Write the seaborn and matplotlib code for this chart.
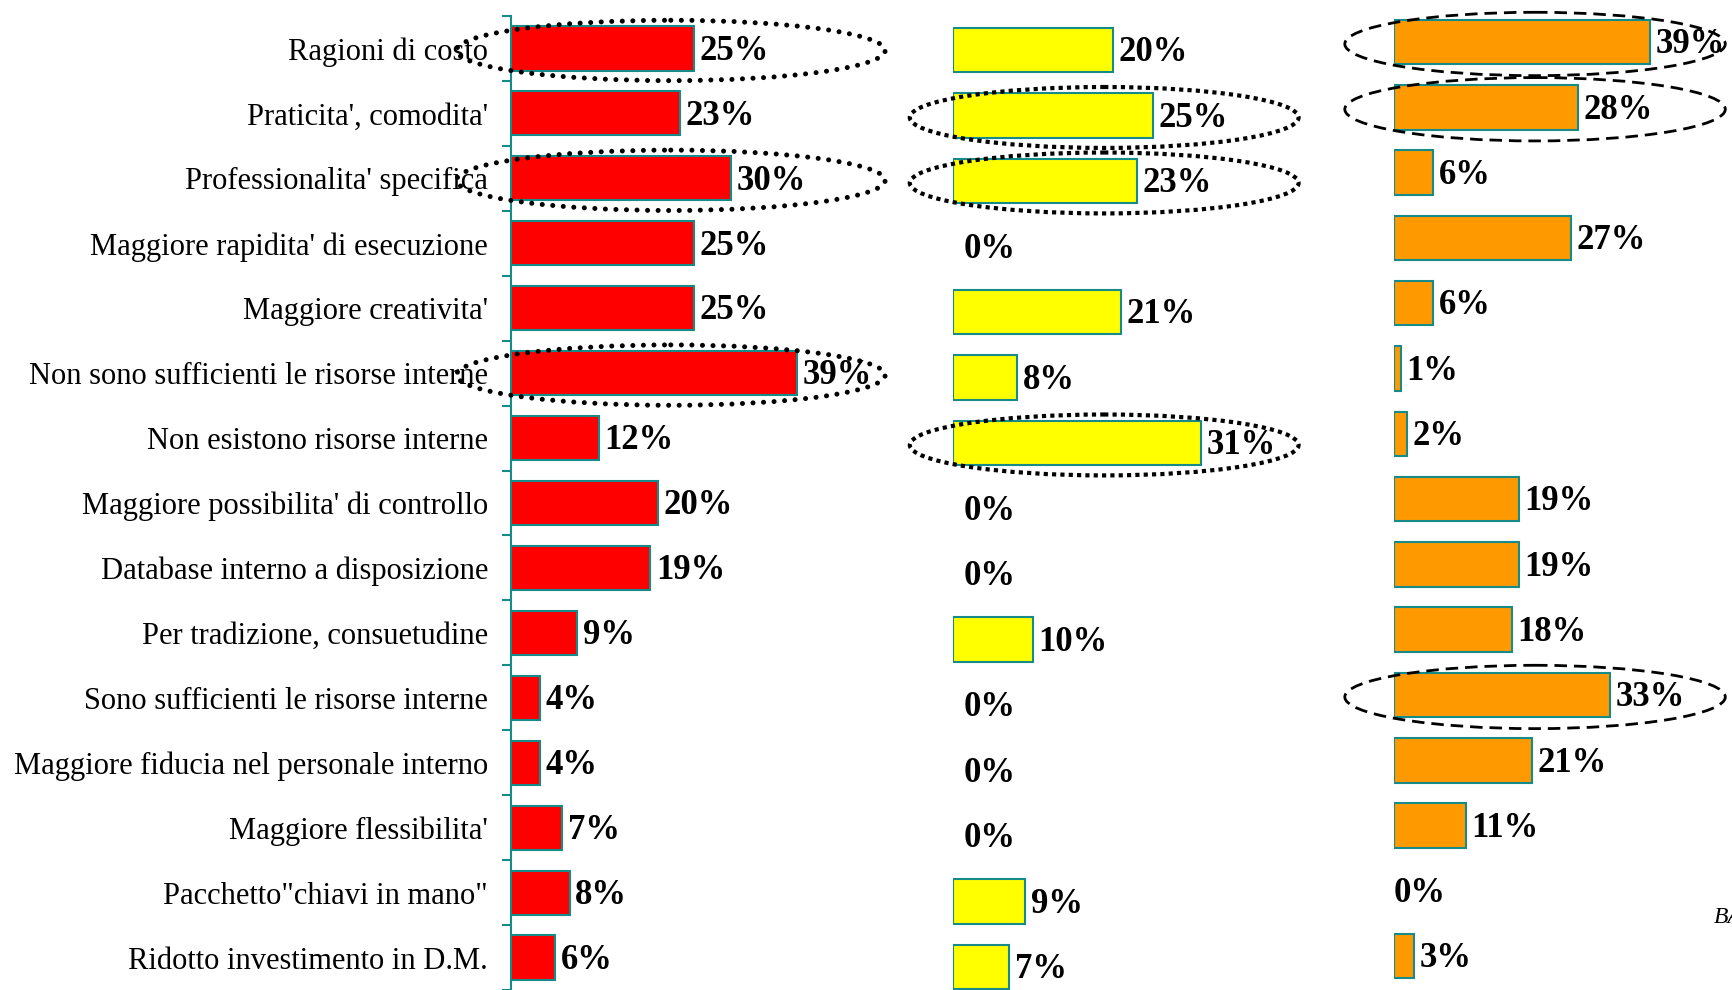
import matplotlib
matplotlib.use("Agg")
import matplotlib.pyplot as plt
import seaborn as sns
from matplotlib.patches import Ellipse

W, H = 1733, 990

categories = [
    "Ragioni di costo",
    "Praticita', comodita'",
    "Professionalita' specifica",
    "Maggiore rapidita' di esecuzione",
    "Maggiore creativita'",
    "Non sono sufficienti le risorse interne",
    "Non esistono risorse interne",
    "Maggiore possibilita' di controllo",
    "Database interno a disposizione",
    "Per tradizione, consuetudine",
    "Sono sufficienti le risorse interne",
    "Maggiore fiducia nel personale interno",
    "Maggiore flessibilita'",
    "Pacchetto\"chiavi in mano\"",
    "Ridotto investimento in D.M.",
]
red_vals = [25, 23, 30, 25, 25, 39, 12, 20, 19, 9, 4, 4, 7, 8, 6]
yellow_vals = [20, 25, 23, 0, 21, 8, 31, 0, 0, 10, 0, 0, 0, 9, 7]
orange_vals = [39, 28, 6, 27, 6, 1, 2, 19, 19, 18, 33, 21, 11, 0, 3]

# righe evidenziate con l'ellisse
red_circled = [0, 2, 5]
yellow_circled = [1, 2, 6]
orange_circled = [0, 1, 10]

TEAL = "#178a8a"

sns.set_style("white")
plt.rcParams["font.family"] = ["Liberation Serif", "DejaVu Serif"]
plt.rcParams["text.color"] = "black"
plt.rcParams["ytick.color"] = "black"


def make_panel(fig, left, row0, step, ppp, xmax=45):
    # posizione in pixel -> frazione di figura
    top = row0 - step / 2
    ax = fig.add_axes([left / W, 0, xmax * ppp / W, (H - top) / H])
    ybottom = -0.5 + (H - top) / step
    return ax, ybottom


def draw_bars(ax, vals, color, ybottom, xmax=45, zero_pad=4):
    sns.barplot(x=vals, y=categories, orient="h", color=color, saturation=1,
                edgecolor=TEAL, linewidth=1.5, width=0.68, ax=ax)
    # niente bordo sulle barre a zero
    for p in ax.patches:
        if p.get_width() == 0:
            p.set_linewidth(0)
    ax.set_xlim(0, xmax)
    ax.set_ylim(ybottom, -0.5)
    for i, v in enumerate(vals):
        dx = 4 if v > 0 else zero_pad
        ax.annotate(f"{v}%", xy=(v, i), xytext=(dx, -2), textcoords="offset points",
                    ha="left", va="center", fontsize=25, fontweight="bold",
                    color="black", annotation_clip=False)


def add_ellipses(ax, rows, cx, w, h, **kw):
    for r in rows:
        ax.add_patch(Ellipse((cx, r + 0.03), w, h, fill=False, clip_on=False,
                             edgecolor="black", zorder=5, **kw))


fig = plt.figure(figsize=(W / 100, H / 100), dpi=100)

# pannello rosso (con etichette)
ax_r, yb = make_panel(fig, 511, 48.6, 65.15, 7.33)
draw_bars(ax_r, red_vals, "#ff0000", yb)
for s in ["top", "right", "bottom"]:
    ax_r.spines[s].set_visible(False)
ax_r.spines["left"].set_color(TEAL)
ax_r.spines["left"].set_linewidth(1.5)
ax_r.xaxis.set_visible(False)
ax_r.set_xlabel("")
ax_r.set_ylabel("")
ax_r.set_yticks(range(len(categories)))
ax_r.set_yticklabels(categories, fontsize=22, color="black")
ax_r.set_yticks([i - 0.5 for i in range(len(categories) + 1)], minor=True)
ax_r.tick_params(axis="y", which="major", left=False, length=0, pad=16.5)
ax_r.tick_params(axis="y", which="minor", left=True, length=6.5, width=1.5,
                 color=TEAL, direction="out")
add_ellipses(ax_r, red_circled, 21.8, 58.5, 0.93,
             linewidth=3.6, linestyle=(0, (0.01, 2.1)), capstyle="round")

# pannello giallo
ax_y, yb = make_panel(fig, 953, 50, 65.5, 8.0)
draw_bars(ax_y, yellow_vals, "#ffff00", yb, zero_pad=8)
ax_y.axis("off")
add_ellipses(ax_y, yellow_circled, 18.9, 48.6, 0.93,
             linewidth=3.0, linestyle=(0, (1, 1)))

# pannello arancione
ax_o, yb = make_panel(fig, 1394, 42, 65.3, 6.56)
draw_bars(ax_o, orange_vals, "#ff9900", yb, zero_pad=0)
ax_o.axis("off")
add_ellipses(ax_o, orange_circled, 21.5, 58, 0.97,
             linewidth=2.0, linestyle=(0, (4.5, 2.5)))

fig.text(1714 / W, (H - 923) / H, "BASE", fontsize=17, fontstyle="italic",
         ha="left", va="baseline")

fig.savefig("out.png", dpi=100)
